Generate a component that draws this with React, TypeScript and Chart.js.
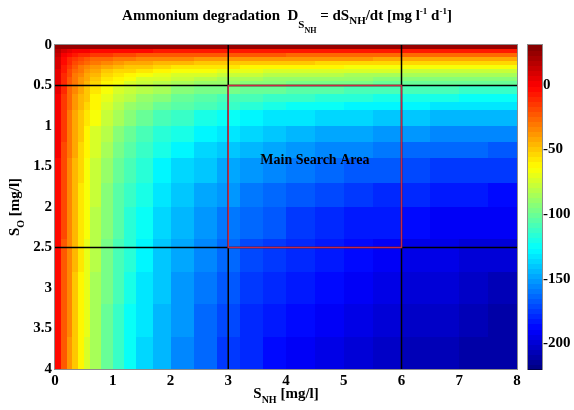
import React, { useEffect, useRef } from "react";
import { Chart, registerables } from "chart.js";

Chart.register(...registerables);

// S_NH cell edges [mg/l]
const snhEdges = [0, 0.1, 0.2, 0.3, 0.4, 0.5, 0.6, 0.8, 1.0, 1.2, 1.4, 1.7, 2.0, 2.4, 2.8, 3.2, 3.6, 4.0, 4.5, 5.0, 5.5, 6.0, 6.5, 7.0, 7.5, 8.0];
// S_O cell edges [mg/l]
const soEdges = [0, 0.05, 0.1, 0.15, 0.2, 0.25, 0.3, 0.35, 0.4, 0.45, 0.5, 0.6, 0.7, 0.8, 1.0, 1.2, 1.4, 1.7, 2.0, 2.4, 2.8, 3.2, 3.6, 4.0];

// dS_NH/dt [mg l-1 d-1], one row per S_O cell, one value per S_NH cell
const degradation = [
  [27, 26, 26, 25, 25, 25, 25, 25, 24, 24, 24, 24, 24, 24, 24, 24, 24, 24, 24, 24, 24, 24, 24, 24, 24],
  [16, 8, 4, 2, 1, 0, -2, -3, -3, -4, -4, -5, -5, -5, -5, -6, -6, -6, -6, -6, -6, -6, -6, -6, -6],
  [13, 3, -3, -7, -10, -12, -14, -16, -18, -19, -20, -21, -21, -22, -23, -23, -23, -24, -24, -24, -24, -24, -24, -25, -25],
  [11, -1, -9, -14, -18, -21, -24, -27, -29, -31, -32, -34, -35, -36, -37, -38, -38, -39, -39, -39, -40, -40, -40, -40, -40],
  [9, -4, -12, -19, -23, -27, -31, -35, -38, -41, -43, -45, -46, -48, -49, -50, -51, -51, -52, -52, -53, -53, -53, -54, -54],
  [8, -6, -15, -22, -28, -32, -37, -42, -46, -49, -51, -54, -56, -58, -59, -60, -61, -62, -63, -64, -64, -65, -65, -65, -66],
  [7, -7, -18, -25, -31, -36, -42, -48, -52, -55, -59, -62, -64, -67, -68, -70, -71, -72, -73, -74, -74, -75, -75, -76, -76],
  [6, -9, -19, -28, -34, -40, -46, -53, -57, -61, -65, -68, -72, -74, -76, -78, -79, -80, -82, -83, -83, -84, -85, -85, -86],
  [5, -10, -21, -30, -37, -43, -50, -57, -62, -66, -71, -74, -78, -81, -83, -85, -87, -88, -89, -90, -91, -92, -93, -93, -94],
  [5, -11, -22, -31, -39, -45, -53, -60, -66, -71, -75, -80, -83, -87, -89, -92, -93, -95, -96, -98, -99, -99, -100, -101, -101],
  [4, -12, -24, -34, -42, -48, -56, -65, -71, -76, -82, -86, -91, -95, -98, -100, -102, -104, -106, -107, -108, -109, -110, -111, -111],
  [3, -13, -26, -36, -44, -51, -60, -69, -77, -82, -88, -94, -99, -103, -107, -109, -112, -114, -116, -117, -119, -120, -121, -122, -123],
  [2, -14, -27, -38, -46, -54, -63, -73, -81, -87, -94, -100, -105, -110, -114, -117, -120, -122, -124, -126, -128, -129, -130, -131, -132],
  [1, -15, -29, -40, -49, -57, -67, -78, -86, -93, -100, -107, -113, -119, -123, -127, -130, -132, -135, -137, -139, -140, -142, -143, -144],
  [0, -16, -30, -42, -51, -60, -71, -82, -92, -99, -107, -115, -121, -128, -133, -137, -140, -143, -146, -148, -151, -152, -154, -155, -156],
  [0, -17, -31, -43, -53, -62, -73, -86, -96, -104, -112, -120, -128, -135, -140, -144, -148, -151, -155, -157, -160, -162, -163, -165, -166],
  [-1, -18, -32, -44, -55, -64, -76, -89, -99, -108, -117, -126, -134, -141, -147, -152, -156, -160, -163, -166, -168, -171, -173, -174, -176],
  [-2, -19, -33, -46, -56, -66, -78, -92, -103, -112, -121, -130, -139, -147, -153, -158, -163, -167, -171, -174, -177, -179, -181, -183, -185],
  [-2, -19, -34, -47, -58, -67, -80, -94, -105, -115, -125, -135, -144, -152, -159, -164, -169, -173, -177, -181, -184, -186, -189, -191, -192],
  [-2, -20, -35, -47, -59, -69, -82, -96, -108, -118, -128, -138, -148, -157, -164, -170, -174, -179, -183, -187, -190, -193, -195, -197, -199],
  [-3, -20, -35, -48, -60, -70, -83, -98, -110, -120, -131, -141, -151, -160, -167, -173, -179, -183, -188, -192, -195, -198, -200, -203, -205],
  [-3, -20, -35, -49, -60, -70, -84, -99, -111, -122, -133, -143, -153, -163, -170, -177, -182, -187, -192, -195, -199, -202, -204, -207, -209],
  [-3, -21, -36, -49, -61, -71, -85, -100, -112, -123, -134, -145, -155, -165, -173, -179, -185, -190, -194, -199, -202, -205, -208, -210, -212],
];

const xTicks = [0, 1, 2, 3, 4, 5, 6, 7, 8];
const yTicks = [0, 0.5, 1, 1.5, 2, 2.5, 3, 3.5, 4];
const cbTicks = [0, -50, -100, -150, -200];
const cbRange = [-220, 31];
const dividerX = [3, 6];
const dividerY = [0.5, 2.5];
const searchBoxX = [3, 6];
const searchBoxY = [0.5, 2.5];
const searchLabel = "Main Search Area";
const searchLabelPos = [4.5, 1.42];

const FONT = '"Liberation Serif", "Times New Roman", serif';
const N_COLORS = 64;

function jet(t: number): string {
  const c = (v: number) => Math.max(0, Math.min(1, v));
  const r = c(1.5 - Math.abs(4 * t - 3));
  const g = c(1.5 - Math.abs(4 * t - 2));
  const b = c(1.5 - Math.abs(4 * t - 1));
  return `rgb(${Math.round(r * 255)},${Math.round(g * 255)},${Math.round(b * 255)})`;
}

function colorFor(v: number): string {
  const [lo, hi] = cbRange;
  let k = Math.floor(((v - lo) / (hi - lo)) * N_COLORS);
  k = Math.max(0, Math.min(N_COLORS - 1, k));
  return jet((k + 0.5) / N_COLORS);
}

type Seg = [string, number, number];

function drawRich(ctx: CanvasRenderingContext2D, segs: Seg[], cx: number, y: number) {
  let total = 0;
  const widths = segs.map(([t, s]) => {
    ctx.font = `bold ${s}px ${FONT}`;
    const w = ctx.measureText(t).width;
    total += w;
    return w;
  });
  let x = cx - total / 2;
  ctx.textAlign = "left";
  ctx.textBaseline = "alphabetic";
  segs.forEach(([t, s, dy], i) => {
    ctx.font = `bold ${s}px ${FONT}`;
    ctx.fillText(t, x, y + dy);
    x += widths[i];
  });
}

const titleSegs: Seg[] = [
  ["Ammonium degradation  D", 15, 0],
  ["S", 11, 8],
  ["NH", 8, 13],
  [" = dS", 15, 0],
  ["NH", 11, 4],
  ["/dt [mg l", 15, 0],
  ["-1", 9, -6],
  [" d", 15, 0],
  ["-1", 9, -6],
  ["]", 15, 0],
];
const xLabelSegs: Seg[] = [["S", 15, 0], ["NH", 10, 5], [" [mg/l]", 15, 0]];
const yLabelSegs: Seg[] = [["S", 15, 0], ["O", 10, 5], [" [mg/l]", 15, 0]];

const heatPlugin = {
  id: "heatmap",
  beforeDatasetsDraw(chart: any) {
    const { ctx } = chart;
    const xs = chart.scales.x;
    const ys = chart.scales.y;
    ctx.save();
    for (let i = 0; i < soEdges.length - 1; i++) {
      const y0 = Math.round(ys.getPixelForValue(soEdges[i]));
      const y1 = Math.round(ys.getPixelForValue(soEdges[i + 1]));
      const row = degradation[i] || [];
      for (let j = 0; j < snhEdges.length - 1; j++) {
        const v = row[j];
        if (v === undefined) continue;
        const x0 = Math.round(xs.getPixelForValue(snhEdges[j]));
        const x1 = Math.round(xs.getPixelForValue(snhEdges[j + 1]));
        ctx.fillStyle = colorFor(v);
        ctx.fillRect(x0, Math.min(y0, y1), x1 - x0, Math.abs(y1 - y0));
      }
    }
    ctx.restore();
  },
  afterDatasetsDraw(chart: any) {
    const { ctx, chartArea: a } = chart;
    const xs = chart.scales.x;
    const ys = chart.scales.y;
    const cb = chart.scales.cb;
    ctx.save();
    ctx.strokeStyle = "#000";
    ctx.lineWidth = 1.5;
    dividerX.forEach((v) => {
      const px = xs.getPixelForValue(v);
      ctx.beginPath();
      ctx.moveTo(px, a.top);
      ctx.lineTo(px, a.bottom);
      ctx.stroke();
    });
    dividerY.forEach((v) => {
      const py = ys.getPixelForValue(v);
      ctx.beginPath();
      ctx.moveTo(a.left, py);
      ctx.lineTo(a.right, py);
      ctx.stroke();
    });
    const bx0 = xs.getPixelForValue(searchBoxX[0]);
    const bx1 = xs.getPixelForValue(searchBoxX[1]);
    const by0 = ys.getPixelForValue(searchBoxY[0]);
    const by1 = ys.getPixelForValue(searchBoxY[1]);
    ctx.strokeStyle = "rgb(200,40,70)";
    ctx.lineWidth = 1.5;
    ctx.strokeRect(bx0, by0, bx1 - bx0, by1 - by0);
    ctx.fillStyle = "#000";
    ctx.font = `bold 14px ${FONT}`;
    ctx.textAlign = "center";
    ctx.textBaseline = "middle";
    ctx.fillText(searchLabel, xs.getPixelForValue(searchLabelPos[0]), ys.getPixelForValue(searchLabelPos[1]));
    ctx.strokeStyle = "rgba(0,0,0,0.45)";
    ctx.lineWidth = 1;
    ctx.strokeRect(a.left - 0.5, a.top - 0.5, a.right - a.left + 1, a.bottom - a.top + 1);
    const cx0 = a.right + 11;
    const cx1 = a.right + 25;
    const [lo, hi] = cbRange;
    for (let k = 0; k < N_COLORS; k++) {
      const v0 = lo + ((hi - lo) * k) / N_COLORS;
      const v1 = lo + ((hi - lo) * (k + 1)) / N_COLORS;
      const p0 = Math.round(cb.getPixelForValue(v0));
      const p1 = Math.round(cb.getPixelForValue(v1));
      ctx.fillStyle = jet((k + 0.5) / N_COLORS);
      ctx.fillRect(cx0, Math.min(p0, p1), cx1 - cx0, Math.abs(p1 - p0) + 1);
    }
    ctx.strokeStyle = "rgba(0,0,0,0.45)";
    ctx.strokeRect(cx0 - 0.5, a.top - 0.5, cx1 - cx0 + 1, a.bottom - a.top + 1);
    ctx.restore();
  },
  afterDraw(chart: any) {
    const { ctx, chartArea: a } = chart;
    ctx.save();
    ctx.fillStyle = "#000";
    drawRich(ctx, titleSegs, 287, 20);
    drawRich(ctx, xLabelSegs, (a.left + a.right) / 2, 398);
    ctx.translate(19, (a.top + a.bottom) / 2);
    ctx.rotate(-Math.PI / 2);
    drawRich(ctx, yLabelSegs, 0, 0);
    ctx.restore();
  },
};

export default function App() {
  const ref = useRef<HTMLCanvasElement>(null);
  useEffect(() => {
    document.body.style.margin = "0";
    document.body.style.overflow = "hidden";
    const centers: { x: number; y: number }[] = [];
    for (let i = 0; i < soEdges.length - 1; i++) {
      for (let j = 0; j < snhEdges.length - 1; j++) {
        centers.push({ x: (snhEdges[j] + snhEdges[j + 1]) / 2, y: (soEdges[i] + soEdges[i + 1]) / 2 });
      }
    }
    const tickFont = { family: FONT, size: 15, weight: "bold" as const };
    const fmt = (v: any) => String(Number(v));
    const chart = new Chart(ref.current as HTMLCanvasElement, {
      type: "scatter",
      data: {
        datasets: [
          {
            data: centers,
            pointRadius: 0,
            pointHoverRadius: 0,
            showLine: false,
          },
        ],
      },
      options: {
        animation: false,
        responsive: false,
        events: [],
        layout: { padding: { top: 45, left: 0, right: 0, bottom: 0 } },
        plugins: { legend: { display: false }, tooltip: { enabled: false }, title: { display: false } },
        scales: {
          x: {
            type: "linear",
            min: 0,
            max: 8,
            grid: { display: false, drawTicks: false },
            border: { display: false },
            ticks: { font: tickFont, color: "#000", padding: 3, maxRotation: 0, callback: fmt },
            afterBuildTicks: (s: any) => {
              s.ticks = xTicks.map((v) => ({ value: v }));
            },
            afterFit: (s: any) => {
              s.height = 41;
            },
          },
          y: {
            type: "linear",
            min: 0,
            max: 4,
            reverse: true,
            grid: { display: false, drawTicks: false },
            border: { display: false },
            ticks: { font: tickFont, color: "#000", padding: 3, callback: fmt },
            afterBuildTicks: (s: any) => {
              s.ticks = yTicks.map((v) => ({ value: v }));
            },
            afterFit: (s: any) => {
              s.width = 55;
            },
          },
          cb: {
            type: "linear",
            position: "right",
            min: cbRange[0],
            max: cbRange[1],
            grid: { display: false, drawTicks: false },
            border: { display: false },
            ticks: { font: tickFont, color: "#000", padding: 26, callback: fmt },
            afterBuildTicks: (s: any) => {
              s.ticks = cbTicks.map((v) => ({ value: v }));
            },
            afterFit: (s: any) => {
              s.width = 57;
            },
          },
        },
      },
      plugins: [heatPlugin],
    } as any);
    return () => chart.destroy();
  }, []);
  return <canvas ref={ref} width={574} height={410} style={{ display: "block" }} />;
}
